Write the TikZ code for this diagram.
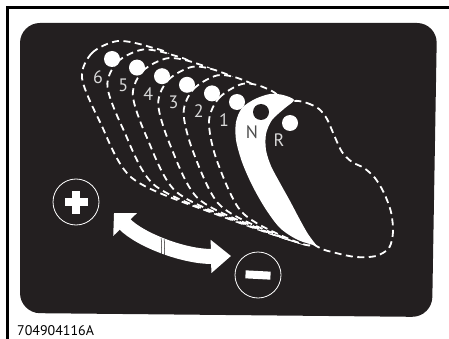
\documentclass[tikz,border=0pt]{standalone}
\usepackage{fontspec}
\setmainfont{PT Sans}
\usetikzlibrary{calc,arrows.meta}
\definecolor{panel}{HTML}{231F20}
\definecolor{pale}{HTML}{D9D9D9}
\tikzset{
  gearloop/.style={fill=panel,draw=white,line width=1.8pt,dash pattern=on 7pt off 4.5pt},
  gearlabel/.style={text=pale,font=\fontsize{18}{18}\selectfont,inner sep=0pt},
  signring/.style={circle,draw=white,line width=0.8pt,minimum size=46pt,inner sep=0pt},
}
\begin{document}
\begin{tikzpicture}[x=1pt,y=-1pt]
  \useasboundingbox (0,0) rectangle (449,339);
  % frame lines
  \draw[line width=3pt] (7.5,339) -- (7.5,7.5) -- (449,7.5);
  % dark panel
  \fill[panel,rounded corners=20pt] (20,23) -- (437,23) -- (432,317) -- (20,313) -- cycle;
  % outline of gear 6 and of gear 1, the others lie in between
  \coordinate (a1) at (82,78);   \coordinate (b1) at (209,121);
  \coordinate (a2) at (92,53);   \coordinate (b2) at (219,98);
  \coordinate (a3) at (118,41);  \coordinate (b3) at (242,84);
  \coordinate (a4) at (150,47);  \coordinate (b4) at (263,87);
  \coordinate (a5) at (170,58);  \coordinate (b5) at (279,100);
  \coordinate (a6) at (150,100); \coordinate (b6) at (255,135);
  \coordinate (a7) at (200,170); \coordinate (b7) at (275,195);
  \coordinate (a8) at (305,242); \coordinate (b8) at (312,244);
  \coordinate (a9) at (210,212); \coordinate (b9) at (278,234);
  \coordinate (a10) at (132,178);\coordinate (b10) at (240,210);
  \coordinate (a11) at (100,122);\coordinate (b11) at (216,158);
  \foreach \k in {6,...,1} {
    \pgfmathsetmacro\pos{(6-\k)/5}
    \foreach \i in {1,...,11}
      \coordinate (p\i) at ($(a\i)!\pos!(b\i)$);
    \path[gearloop] plot[smooth cycle] coordinates {(p1) (p2) (p3) (p4) (p5) (p6) (p7) (p8) (p9) (p10) (p11)};
  }
  % reverse
  \path[gearloop] plot[smooth cycle] coordinates {(293,101) (307,103) (319,109) (327,119) (334,135) (342,152) (352,162) (364,168) (375,178) (384,193) (391,212) (393,232) (389,248) (376,256) (356,257) (336,253) (318,247) (295,228) (262,180) (252,140) (268,108)};
  % neutral, the lever itself
  \fill[white] plot[smooth] coordinates {(317,246) (298,240) (280,228) (265,208) (252,185) (242,162) (236,140) (236,122) (242,108) (255,99) (270,94) (283,95) (294,100) (285,108) (272,120) (266,134) (266,150) (271,166) (280,183) (290,201) (299,218) (308,234) (317,246)} -- cycle;
  % knobs and numbers
  \coordinate (d6) at (112,59); \coordinate (d1) at (237,102);
  \coordinate (l6) at (98,77);  \coordinate (l1) at (224,120);
  \foreach \k in {6,...,1} {
    \pgfmathsetmacro\pos{(6-\k)/5}
    \fill[white] ($(d6)!\pos!(d1)$) circle (8);
    \node[gearlabel] (g\k) at ($(l6)!\pos!(l1)$) {\k};
  }
  \fill[panel] (261,112) circle (8);
  \fill[white] (290,123) circle (8);
  \node[gearlabel,text=black!70] (gN) at (252,132) {N};
  \node[gearlabel] (gR) at (279,140) {R};
  % up / down
  \node[signring] (plus) at (76,202) {};
  \fill[white] ($(plus)+(-11.5,-4)$) rectangle ($(plus)+(11.5,4)$);
  \fill[white] ($(plus)+(-4,-11.5)$) rectangle ($(plus)+(4,11.5)$);
  \node[signring] (minus) at (258,275) {};
  \fill[white,rotate around={-3:(minus)}] ($(minus)+(-12.5,-4)$) rectangle ($(minus)+(12.5,4)$);
  \coordinate (up) at (114,213);
  \coordinate (down) at (231,256);
  \draw[white,line width=15pt,{Triangle[length=16pt,width=32pt]}-{Triangle[length=20pt,width=32pt]}]
    (up) .. controls (140,240) and (185,257) .. (down);
  % break in the arrow
  \draw[panel,line width=0.5pt] (161,238) .. controls (163,244) and (160,250) .. (162,256);
  \draw[panel,line width=0.5pt] (164,239) .. controls (166,245) and (163,251) .. (165,257);
  \node[anchor=base west,font=\fontsize{14}{14}\selectfont,inner sep=0pt] (code) at (17,335) {704904116A};
\end{tikzpicture}
\end{document}
